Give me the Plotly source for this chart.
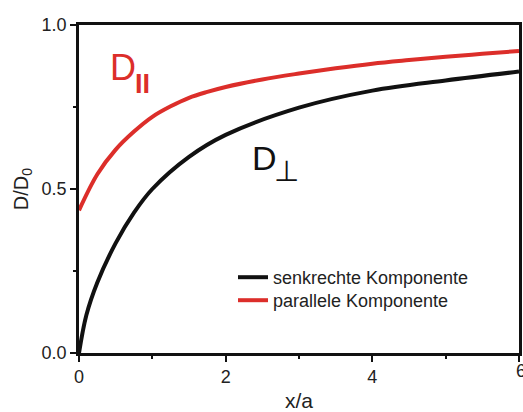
import plotly.graph_objects as go

# data
x_perp = [0, 0.1, 0.25, 0.5, 0.75, 1.0, 1.5, 2.0, 3.0, 4.0, 5.0, 6.0]
d_perp = [0, 0.115, 0.215, 0.335, 0.428, 0.5, 0.598, 0.665, 0.748, 0.80, 0.831, 0.858]

x_par = [0, 0.25, 0.5, 0.75, 1.0, 1.25, 1.5, 1.75, 2.0, 2.5, 3.0, 3.5, 4.0, 4.5, 5.0, 5.5, 6.0]
d_par = [0.435, 0.545, 0.62, 0.675, 0.72, 0.752, 0.778, 0.796, 0.811, 0.834, 0.852,
         0.868, 0.882, 0.893, 0.903, 0.912, 0.921]

names = ["senkrechte Komponente", "parallele Komponente"]
x_ticks = [0, 2, 4, 6]
y_ticks = [0.0, 0.5, 1.0]
y_ticklabels = ["0.0", "0.5", "1.0"]

RED = "#DC2E2A"
BLK = "#111111"
FONT = "Arial, Liberation Sans, sans-serif"

fig = go.Figure()
fig.add_trace(go.Scatter(x=x_perp, y=d_perp, mode="lines", name=names[0], legend="legend",
                         line=dict(color=BLK, width=4, shape="spline", smoothing=1)))
fig.add_trace(go.Scatter(x=x_par, y=d_par, mode="lines", name=names[1], legend="legend2",
                         line=dict(color=RED, width=4, shape="spline", smoothing=1)))

W, H = 523, 412
L, R, T, B = 79, 4, 25, 59
pw, ph = W - L - R, H - T - B

def px(xp):
    return (xp - L) / pw

def py(yp):
    return (H - B - yp) / ph

leg_common = dict(xanchor="left", yanchor="top", bgcolor="rgba(0,0,0,0)",
                  font=dict(size=18, color="#222222"))

fig.update_layout(
    width=W, height=H,
    margin=dict(l=L, r=R, t=T, b=B, pad=0, autoexpand=False),
    plot_bgcolor="white", paper_bgcolor="white",
    font=dict(family=FONT, color="#222222", size=18),
    showlegend=True,
    legend=dict(x=px(233), y=py(259), **leg_common),
    legend2=dict(x=px(233), y=py(282), **leg_common),
    xaxis=dict(range=[0, 6], tickvals=x_ticks, ticks="outside", ticklen=6, tickwidth=2,
               tickcolor=BLK, showline=True, linecolor=BLK, linewidth=2.5, mirror=True,
               showgrid=False, zeroline=False, automargin=False,
               minor=dict(tickvals=[1, 3, 5], ticks="outside", ticklen=3, tickwidth=2, tickcolor=BLK),
               title=dict(text="x/a", font=dict(size=21), standoff=22),
               tickfont=dict(size=18)),
    yaxis=dict(range=[0, 1], tickvals=y_ticks, ticktext=y_ticklabels, ticks="outside", ticklen=6,
               tickwidth=2, tickcolor=BLK, showline=True, linecolor=BLK, linewidth=2.5, mirror=True,
               showgrid=False, zeroline=False, automargin=False,
               minor=dict(tickvals=[0.25, 0.75], ticks="outside", ticklen=3, tickwidth=2, tickcolor=BLK),
               title=dict(text="D/D<sub>0</sub>", font=dict(size=20), standoff=8),
               tickfont=dict(size=18)),
)

ann = [
    dict(text="D", x=px(109), y=py(67), font=dict(size=36, color=RED)),
    dict(text="<b>II</b>", x=px(134), y=py(84), font=dict(size=27, color=RED)),
    dict(text="D", x=px(251), y=py(158), font=dict(size=34, color=BLK)),
    dict(text="⊥", x=px(273), y=py(171), font=dict(size=29, color=BLK)),
]
for a in ann:
    fig.add_annotation(xref="paper", yref="paper", xanchor="left", yanchor="middle",
                       showarrow=False, borderpad=0, **a)

# last x tick label (cut at the right edge, as in the reference)
fig.add_annotation(xref="x", yref="paper", x=x_ticks[-1], y=py(371), text=str(x_ticks[-1]),
                   xanchor="left", xshift=-5, yanchor="middle", showarrow=False,
                   font=dict(size=18, color="#222222"))

fig.write_html("out.html")
